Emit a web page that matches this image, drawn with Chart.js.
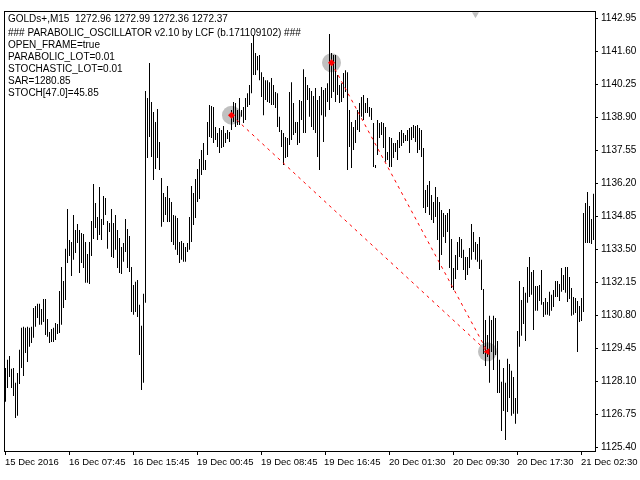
<!DOCTYPE html>
<html>
<head>
<meta charset="utf-8">
<script src="https://cdn.jsdelivr.net/npm/chart.js@4.4.1/dist/chart.umd.min.js"></script>
<style>
html, body { margin: 0; padding: 0; background: #fff; }
canvas { display: block; }
</style>
</head>
<body>
<canvas id="chart" width="640" height="480"></canvas>
<script>
"use strict"

// GOLDs+ M15 bars, high / low of every bar
var barHigh = [
    1128.66, 1128.99, 1129.15, 1128.62, 1128.66, 1128.05, 1128.45, 1129.40, 1130.30, 1130.34,
    1130.30, 1130.34, 1130.30, 1130.34, 1131.11, 1131.19, 1131.28, 1131.28, 1131.07, 1131.48,
    1131.48, 1130.66, 1130.13, 1130.25, 1130.30, 1130.50, 1130.46, 1131.81, 1132.79, 1132.22,
    1133.53, 1135.16, 1133.89, 1133.81, 1134.92, 1134.30, 1134.55, 1134.30, 1134.18, 1134.14,
    1133.81, 1133.32, 1133.81, 1134.67, 1136.18, 1135.41, 1134.83, 1136.06,
    1134.75, 1135.69, 1135.61, 1134.67, 1134.59, 1135.16, 1134.59, 1134.92, 1134.30, 1133.97,
    1133.61, 1133.77, 1134.75, 1134.34, 1134.06, 1132.79, 1132.05, 1132.18, 1132.26, 1131.24,
    1130.38, 1131.69, 1139.99, 1139.70, 1141.13, 1139.54, 1139.13, 1138.72, 1139.25, 1137.90,
    1136.43, 1135.82, 1135.65, 1136.10, 1135.61, 1135.45, 1134.92, 1134.88, 1134.79, 1133.81,
    1133.85, 1133.77, 1133.61, 1133.77, 1134.83, 1136.10, 1135.82, 1136.39, 1136.80, 1137.21,
    1137.57, 1137.86, 1137.17, 1138.72, 1139.42, 1139.37, 1139.33, 1138.52, 1138.27, 1138.47,
    1138.39, 1138.56, 1138.27, 1138.39, 1138.31, 1139.21, 1139.54, 1139.50, 1139.21, 1139.70,
    1139.21, 1139.33, 1139.70, 1139.90, 1140.23, 1141.95, 1142.28, 1141.54, 1141.42, 1141.46,
    1140.76, 1140.56, 1140.43, 1140.43, 1140.35, 1140.52, 1140.23, 1139.95, 1139.90, 1138.93,
    1138.39, 1138.27, 1138.11, 1138.07, 1139.95, 1140.35, 1139.50, 1138.72, 1138.72, 1139.62,
    1139.58, 1140.88, 1140.56, 1140.23, 1140.11, 1139.99, 1139.78, 1140.11, 1139.62, 1139.78,
    1140.15, 1140.03, 1140.11, 1140.31, 1142.32, 1141.54, 1141.46, 1141.46, 1140.64, 1140.23,
    1140.31, 1140.72, 1140.84, 1140.76, 1139.21, 1138.72, 1138.52, 1138.80, 1139.21, 1139.50,
    1139.74, 1139.82, 1139.50, 1139.70, 1139.33, 1139.29, 1138.68, 1136.96, 1138.80, 1138.68,
    1138.72, 1138.68, 1138.52, 1137.49, 1138.11, 1138.07, 1137.86, 1137.86, 1137.98, 1138.31,
    1138.39, 1138.27, 1138.19, 1138.39, 1138.47, 1138.52, 1138.60, 1138.56, 1138.60, 1138.47,
    1138.39, 1137.66, 1135.94, 1136.14, 1136.31, 1135.73, 1135.45, 1136.06, 1135.65, 1135.45,
    1135.12, 1135.00, 1134.92, 1135.00, 1135.16, 1133.93, 1132.75, 1133.28, 1133.81, 1134.02,
    1133.93, 1133.49, 1133.20, 1133.20, 1133.57, 1134.55, 1134.22, 1133.81, 1133.73, 1134.02,
    1133.08, 1131.89, 1130.62, 1130.01, 1130.79, 1130.62, 1130.79, 1130.70, 1129.76, 1128.99,
    1128.09, 1128.66, 1128.05, 1129.03, 1128.82, 1128.54, 1128.29, 1127.43, 1130.17, 1132.22,
    1131.44, 1131.97, 1131.73, 1132.79, 1133.20, 1132.58, 1132.67, 1132.01, 1132.01, 1132.05,
    1132.67, 1131.36, 1131.52, 1131.36, 1131.77, 1131.65, 1131.85, 1132.22, 1132.22, 1132.09,
    1132.75, 1132.46, 1132.79, 1132.79, 1132.38, 1131.93, 1131.56, 1131.52, 1131.40, 1131.19,
    1131.52, 1135.00, 1135.41, 1135.86, 1135.28, 1134.75, 1135.78
];

var barLow = [
    1127.27, 1127.84, 1128.29, 1127.84, 1127.51, 1126.61, 1126.70, 1128.00, 1128.66, 1128.33,
    1129.27, 1128.90, 1129.52, 1129.68, 1129.89, 1130.34, 1130.70, 1130.42, 1130.42, 1130.54,
    1130.01, 1129.93, 1129.68, 1129.72, 1129.72, 1129.80, 1130.05, 1130.09, 1130.42, 1131.11,
    1131.44, 1132.95, 1133.24, 1132.42, 1133.08, 1133.36, 1133.77, 1132.54, 1132.95, 1132.75,
    1132.14, 1132.14, 1132.09, 1133.24, 1133.93, 1134.38, 1133.89, 1134.10,
    1133.89, 1134.51, 1134.92, 1133.53, 1134.22, 1133.20, 1133.16, 1133.49, 1132.75, 1132.54,
    1132.50, 1133.00, 1133.40, 1132.75, 1132.58, 1130.95, 1130.83, 1130.95, 1130.74, 1129.19,
    1127.76, 1128.05, 1131.32, 1137.25, 1138.11, 1137.29, 1136.35, 1136.80, 1137.25, 1136.76,
    1134.43, 1134.63, 1134.92, 1134.63, 1134.63, 1133.81, 1133.69, 1133.49, 1133.28, 1132.95,
    1133.08, 1133.00, 1133.00, 1133.40, 1133.49, 1133.81, 1134.51, 1134.79, 1135.45, 1135.57,
    1136.55, 1136.76, 1136.76, 1137.37, 1138.11, 1138.07, 1137.86, 1137.98, 1137.70, 1137.45,
    1137.66, 1137.70, 1137.86, 1138.02, 1137.90, 1138.39, 1138.72, 1138.52, 1138.60, 1138.60,
    1138.93, 1138.68, 1138.80, 1139.33, 1139.42, 1139.90, 1140.64, 1140.64, 1140.84, 1140.43,
    1139.74, 1139.00, 1139.62, 1139.54, 1139.50, 1139.42, 1139.42, 1139.29, 1138.52, 1138.31,
    1137.70, 1136.96, 1137.25, 1137.29, 1137.78, 1137.98, 1138.19, 1138.27, 1137.78, 1137.86,
    1138.80, 1138.27, 1138.27, 1139.62, 1138.93, 1138.52, 1138.39, 1138.27, 1137.29, 1136.76,
    1139.00, 1137.90, 1138.93, 1139.54, 1139.21, 1139.70, 1139.95, 1139.54, 1139.82, 1139.50,
    1139.54, 1139.70, 1139.95, 1136.76, 1137.70, 1136.84, 1137.57, 1137.86, 1138.39, 1138.31,
    1138.93, 1138.80, 1139.09, 1139.09, 1138.93, 1138.80, 1136.88, 1136.84, 1137.37, 1138.07,
    1138.19, 1137.66, 1137.09, 1137.17, 1136.88, 1136.88, 1137.25, 1137.49, 1137.17, 1137.66,
    1137.74, 1137.86, 1137.94, 1137.94, 1137.45, 1137.98, 1138.07, 1137.90, 1137.45, 1137.57,
    1137.29, 1135.20, 1135.00, 1135.24, 1134.92, 1134.71, 1134.59, 1134.83, 1133.89, 1132.67,
    1133.28, 1134.02, 1133.77, 1134.22, 1132.75, 1131.93, 1131.85, 1132.30, 1132.67, 1133.20,
    1133.16, 1132.67, 1132.26, 1132.46, 1132.75, 1133.08, 1133.40, 1133.08, 1133.00, 1132.71,
    1131.85, 1129.23, 1128.74, 1129.11, 1128.05, 1129.31, 1128.57, 1129.19, 1127.63, 1127.63,
    1126.08, 1126.90, 1125.71, 1126.86, 1127.43, 1126.70, 1126.78, 1126.37, 1126.78, 1129.52,
    1129.97, 1130.46, 1129.76, 1131.32, 1131.56, 1131.65, 1130.21, 1131.00, 1131.00, 1131.40,
    1131.24, 1130.74, 1130.83, 1130.83, 1130.79, 1131.00, 1131.15, 1131.56, 1131.56, 1131.40,
    1131.77, 1131.85, 1131.73, 1131.36, 1131.48, 1130.79, 1130.83, 1130.91, 1129.31, 1130.54,
    1130.58, 1130.95, 1133.77, 1133.77, 1133.77, 1133.73, 1133.89
];

// time axis: one label every 32 bars (8 hours)
var timeTicks = [0, 32, 64, 96, 128, 160, 192, 224, 256, 288];
var timeLabels = ['15 Dec 2016', '16 Dec 07:45', '16 Dec 15:45', '19 Dec 00:45', '19 Dec 08:45',
    '19 Dec 16:45', '20 Dec 01:30', '20 Dec 09:30', '20 Dec 17:30', '21 Dec 02:30'];

var priceTicks = [1125.40, 1126.75, 1128.10, 1129.45, 1130.80, 1132.15, 1133.50,
    1134.85, 1136.20, 1137.55, 1138.90, 1140.25, 1141.60, 1142.95];
var priceMin = 1125.26;
var priceMax = 1143.22;

// signal points joined by the dotted lines
var signalBar = [113, 163, 241];
var signalPrice = [1139.00, 1141.14, 1129.32];

// grey arrow at the top edge
var sarBar = [235];
var sarPrice = [1143.13];

var infoLines = [
    'GOLDs+,M15  1272.96 1272.99 1272.36 1272.37',
    '### PARABOLIC_OSCILLATOR v2.10 by LCF (b.171109102) ###',
    'OPEN_FRAME=true',
    'PARABOLIC_LOT=0.01',
    'STOCHASTIC_LOT=0.01',
    'SAR=1280.85',
    'STOCH[47.0]=45.85'
];
var infoY = [19, 33, 45, 57, 69, 81, 93];

var FONT = '"Liberation Sans", Arial, sans-serif';

var bars = [];
for (var i = 0; i < barHigh.length; i++) {
    bars.push({ x: i, y: [barLow[i], barHigh[i]] });
}

var signals = [];
for (var k = 0; k < signalBar.length; k++) {
    signals.push({ x: signalBar[k], y: signalPrice[k] });
}

// frame, time labels and the indicator text in the corner
var frame = {
    id: 'frame',
    afterDraw: function (chart) {
        var a = chart.chartArea;
        var ctx = chart.ctx;
        var xs = chart.scales.x;
        ctx.save();
        ctx.strokeStyle = '#000';
        ctx.lineWidth = 1;
        ctx.strokeRect(a.left + 0.5, a.top - 0.5, a.right - a.left, a.bottom - a.top + 1);

        ctx.fillStyle = '#000';
        ctx.textBaseline = 'middle';
        ctx.textAlign = 'left';
        ctx.font = '9.5px ' + FONT;
        for (var t = 0; t < timeTicks.length; t++) {
            var px = Math.round(xs.getPixelForValue(timeTicks[t]));
            ctx.fillText(timeLabels[t], px - 1, a.bottom + 11);
        }

        ctx.font = '10px ' + FONT;
        for (var n = 0; n < infoLines.length; n++) {
            ctx.fillText(infoLines[n], 8, infoY[n]);
        }
        ctx.restore();
    }
};

Chart.defaults.font.family = FONT;
Chart.defaults.font.size = 10;
Chart.defaults.color = '#000';

new Chart(document.getElementById('chart'), {
    type: 'bar',
    data: {
        datasets: [
            {
                type: 'line',
                data: signals,
                showLine: false,
                pointStyle: 'circle',
                pointRadius: 9.5,
                pointBackgroundColor: '#c0c0c0',
                pointBorderWidth: 0,
                order: 10
            },
            {
                data: bars,
                backgroundColor: '#000',
                borderWidth: 0,
                barThickness: 1,
                inflateAmount: 0,
                borderSkipped: false,
                order: 5
            },
            {
                type: 'line',
                data: [signals[0], signals[2]],
                borderColor: '#ff0000',
                borderWidth: 1,
                borderDash: [3, 4],
                pointRadius: 0,
                order: 2
            },
            {
                type: 'line',
                data: [signals[1], signals[2]],
                borderColor: '#ff0000',
                borderWidth: 1,
                borderDash: [3, 4],
                pointRadius: 0,
                order: 2
            },
            {
                type: 'line',
                data: [signals[0], signals[1]],
                showLine: false,
                pointStyle: 'rectRot',
                pointRadius: 3.5,
                pointBackgroundColor: '#ff0000',
                pointBorderWidth: 0,
                order: 1
            },
            {
                type: 'line',
                data: [signals[2]],
                showLine: false,
                pointStyle: 'triangle',
                pointRotation: -90,
                pointRadius: 4,
                pointBackgroundColor: '#ff0000',
                pointBorderWidth: 0,
                order: 1
            },
            {
                type: 'line',
                data: [{ x: sarBar[0], y: sarPrice[0] }],
                showLine: false,
                pointStyle: 'triangle',
                pointRotation: 180,
                pointRadius: 4,
                pointBackgroundColor: '#c0c0c0',
                pointBorderWidth: 0,
                order: 1
            }
        ]
    },
    options: {
        responsive: false,
        animation: false,
        devicePixelRatio: 1,
        layout: {
            autoPadding: false,
            padding: { left: 4, top: 12, right: 0, bottom: 0 }
        },
        plugins: {
            legend: { display: false },
            tooltip: { enabled: false }
        },
        scales: {
            x: {
                type: 'linear',
                min: -0.75,
                max: 294.75,
                offset: false,
                afterBuildTicks: function (scale) {
                    scale.ticks = timeTicks.map(function (v) { return { value: v }; });
                },
                afterFit: function (scale) { scale.height = 29; },
                ticks: { display: false },
                grid: {
                    offset: false,
                    drawOnChartArea: false,
                    tickLength: 4,
                    tickColor: '#000'
                },
                border: { display: false }
            },
            y: {
                type: 'linear',
                position: 'right',
                min: priceMin,
                max: priceMax,
                afterBuildTicks: function (scale) {
                    scale.ticks = priceTicks.map(function (v) { return { value: v }; });
                },
                afterFit: function (scale) { scale.width = 45; },
                ticks: {
                    padding: 3,
                    callback: function (value) { return value.toFixed(2); }
                },
                grid: {
                    drawOnChartArea: false,
                    tickLength: 3,
                    tickColor: '#000'
                },
                border: { display: false }
            }
        }
    },
    plugins: [frame]
});
</script>
</body>
</html>
